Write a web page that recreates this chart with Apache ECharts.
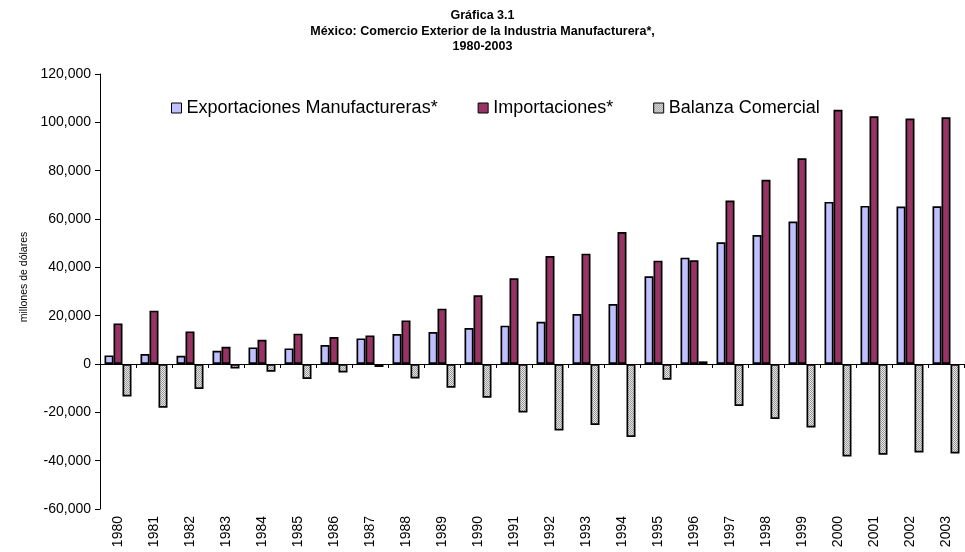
<!DOCTYPE html>
<html>
<head>
<meta charset="utf-8">
<script src="https://cdn.jsdelivr.net/npm/echarts@6/dist/echarts.min.js"></script>
<style>
html,body{margin:0;padding:0;background:#fff;}
#chart{width:965px;height:552px;}
</style>
</head>
<body>
<div id="chart"></div>
<script>
const years = ['1980','1981','1982','1983','1984','1985','1986','1987','1988','1989','1990','1991','1992','1993','1994','1995','1996','1997','1998','1999','2000','2001','2002','2003'];
const exportaciones = [3560, 4140, 3440, 5500, 6870, 6460, 7870, 10600, 12420, 13250, 14900, 15860, 17500, 20700, 24840, 36270, 44000, 50350, 53400, 58920, 67080, 65420, 65130, 65260];
const importaciones = [16800, 22070, 13500, 7160, 10060, 12550, 11180, 11840, 18050, 22900, 28400, 35450, 44700, 45670, 54650, 42770, 42900, 67620, 76190, 85130, 105170, 102530, 101570, 102110];
const balanza = [-13400, -18100, -10350, -1820, -3190, -6210, -3480, -1240, -5960, -9810, -13950, -20040, -27500, -25260, -30230, -6500, 1100, -17390, -22770, -26250, -38260, -37550, -36600, -37020];
const seriesNames = ['Exportaciones Manufactureras*', 'Importaciones*', 'Balanza Comercial'];
const titleText = 'Gráfica 3.1\nMéxico: Comercio Exterior de la Industria Manufacturera*,\n1980-2003';
const yAxisName = 'millones de dólares';

// fine gray dither pattern for the balance series
const pc = document.createElement('canvas');
pc.width = 2; pc.height = 2;
const pctx = pc.getContext('2d');
pctx.fillStyle = '#e4e4e4'; pctx.fillRect(0,0,2,2);
pctx.fillStyle = '#9c9c9c'; pctx.fillRect(0,0,1,1); pctx.fillRect(1,1,1,1);
const grayPattern = {image: pc, repeat: 'repeat'};

const font = 'Arial, "Liberation Sans", sans-serif';
const chart = echarts.init(document.getElementById('chart'), null, {renderer: 'canvas'});
const barStyle = (color) => ({color: color, borderColor: '#000', borderWidth: 1.7});

chart.setOption({
  animation: false,
  backgroundColor: '#fff',
  textStyle: {fontFamily: font, color: '#000'},
  title: {
    text: titleText,
    left: 'center',
    top: 3,
    textStyle: {fontFamily: font, fontWeight: 'bold', fontSize: 12.5, lineHeight: 15.5, color: '#000'}
  },
  legend: {
    left: 166,
    top: 94,
    itemWidth: 10,
    itemHeight: 10,
    itemGap: 40,
    icon: 'rect',
    itemStyle: {borderColor: '#000', borderWidth: 1},
    textStyle: {fontFamily: font, fontSize: 18, color: '#000'},
    data: seriesNames
  },
  grid: {left: 100, right: 1, top: 74, bottom: 43, containLabel: false, outerBoundsMode: 'none'},
  xAxis: [
    {
      type: 'category',
      position: 'bottom',
      data: years,
      axisLine: {show: false, onZero: false},
      axisTick: {show: false},
      axisLabel: {rotate: 90, fontSize: 14, color: '#000', fontFamily: font, margin: 7, interval: 0}
    },
    {
      type: 'category',
      position: 'top',
      data: years,
      axisLine: {show: true, onZero: true, lineStyle: {color: '#000', width: 1}},
      axisTick: {show: true, inside: true, length: 4, lineStyle: {color: '#000'}},
      axisLabel: {show: false}
    }
  ],
  yAxis: {
    type: 'value',
    min: -60000,
    max: 120000,
    interval: 20000,
    name: yAxisName,
    nameLocation: 'middle',
    nameGap: 67,
    nameTextStyle: {fontFamily: font, fontSize: 10.5, color: '#000', padding: [0, 0, 0, 29]},
    axisLine: {show: true, lineStyle: {color: '#000', width: 1}},
    axisTick: {show: true, length: 5, lineStyle: {color: '#000'}},
    splitLine: {show: false},
    axisLabel: {
      fontSize: 14, color: '#000', fontFamily: font, margin: 9,
      formatter: (v) => v.toLocaleString('en-US')
    }
  },
  series: [
    {name: seriesNames[0], type: 'bar', data: exportaciones, barWidth: 9, barGap: '0%', itemStyle: barStyle('#c0c0ff')},
    {name: seriesNames[1], type: 'bar', data: importaciones, barWidth: 9, barGap: '0%', itemStyle: barStyle('#993366')},
    {name: seriesNames[2], type: 'bar', data: balanza, barWidth: 9, barGap: '0%', itemStyle: barStyle(grayPattern)}
  ]
});
</script>
</body>
</html>
